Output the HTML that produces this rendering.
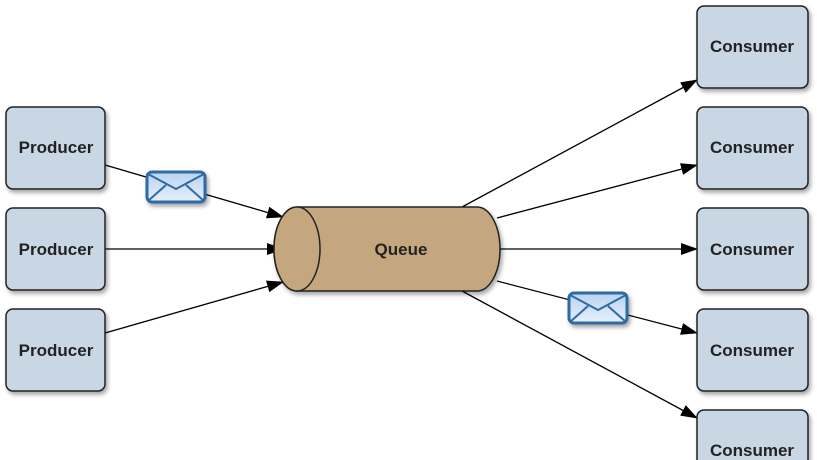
<!DOCTYPE html>
<html><head><style>
html,body{margin:0;background:#fff;width:817px;height:460px;overflow:hidden}
svg{display:block;overflow:hidden}
</style></head><body>
<svg width="817" height="460" viewBox="0 0 817 460" xmlns="http://www.w3.org/2000/svg" font-family="Liberation Sans, sans-serif">
<defs>
<marker id="a" markerWidth="17" markerHeight="12" refX="16" refY="6" orient="auto" markerUnits="userSpaceOnUse">
<path d="M0,0 L17,6 L0,12 z" fill="#000"/></marker>
<filter id="s" x="-20%" y="-20%" width="150%" height="150%"><feDropShadow dx="2" dy="3" stdDeviation="2" flood-color="#000" flood-opacity="0.35"/></filter>
<linearGradient id="e" x1="0" y1="0" x2="0" y2="1"><stop offset="0" stop-color="#b9d3f0"/><stop offset="1" stop-color="#e6f0fb"/></linearGradient>
</defs>
<g stroke="#000" stroke-width="1.3" fill="none" marker-end="url(#a)">
<line x1="105" y1="165" x2="283" y2="217"/>
<line x1="105" y1="249" x2="283" y2="249"/>
<line x1="105" y1="333" x2="283" y2="282"/>
<line x1="462" y1="207" x2="697" y2="80"/>
<line x1="497" y1="218" x2="697" y2="165"/>
<line x1="500" y1="249" x2="697" y2="249"/>
<line x1="497" y1="281" x2="697" y2="333"/>
<line x1="462" y1="291" x2="697" y2="418"/>
</g>
<g fill="#c9d6e3" stroke="#222" stroke-width="1.5" filter="url(#s)">
<rect x="6" y="107" width="99" height="82" rx="7"/>
<rect x="6" y="208" width="99" height="82" rx="7"/>
<rect x="6" y="309" width="99" height="82" rx="7"/>
<rect x="697" y="6" width="111" height="82" rx="7"/>
<rect x="697" y="107" width="111" height="82" rx="7"/>
<rect x="697" y="208" width="111" height="82" rx="7"/>
<rect x="697" y="309" width="111" height="82" rx="7"/>
<rect x="697" y="410" width="111" height="70" rx="7"/>
</g>
<g filter="url(#s)">
<path d="M297,207 L477,207 A23,42 0 0 1 477,291 L297,291 A23,42 0 0 1 297,207 z" fill="#c4a77e" stroke="#222" stroke-width="1.5"/>
</g>
<ellipse cx="297" cy="249" rx="23" ry="42" fill="#c4a77e" stroke="#222" stroke-width="1.5"/>
<g font-size="17" font-weight="bold" fill="#222" text-anchor="middle">
<text x="56" y="153">Producer</text>
<text x="56" y="255">Producer</text>
<text x="56" y="356">Producer</text>
<text x="752" y="52">Consumer</text>
<text x="752" y="153">Consumer</text>
<text x="752" y="255">Consumer</text>
<text x="752" y="356">Consumer</text>
<text x="752" y="456">Consumer</text>
<text x="401" y="255">Queue</text>
</g>
<g stroke="#2f6aa3" stroke-width="3" fill="url(#e)" filter="url(#s)">
<rect x="147" y="172" width="58" height="30" rx="5"/>
<rect x="569" y="293" width="58" height="30" rx="5"/>
</g>
<g stroke="#2f6aa3" stroke-width="2" fill="none">
<path d="M148,174 L176,189 L204,174 M148,201 L166,185 M204,201 L186,185"/>
<path d="M570,295 L598,310 L626,295 M570,322 L588,306 M626,322 L608,306"/>
</g>
</svg>
</body></html>
